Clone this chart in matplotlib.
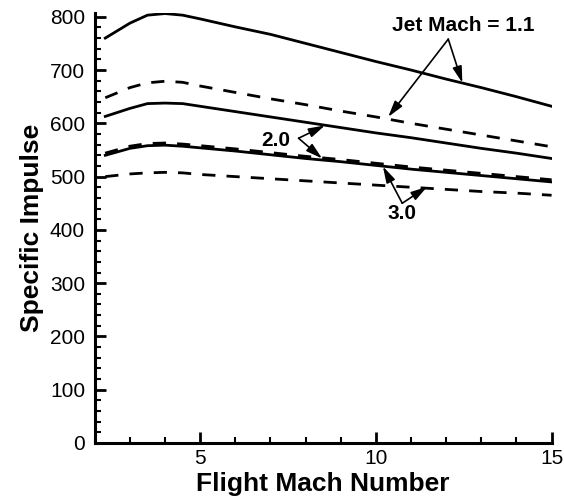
import matplotlib
matplotlib.use("Agg")
import matplotlib.pyplot as plt
from matplotlib.ticker import MultipleLocator

plt.rcParams['font.family'] = ['Liberation Sans', 'DejaVu Sans']
plt.rcParams['lines.scale_dashes'] = False

# flight Mach number grid shared by all curves
mach = [2.3, 3.0, 3.5, 4.0, 4.5, 5, 6, 7, 8, 9, 10, 11, 12, 13, 14, 15]

# specific impulse, solid and dashed families for each jet Mach number
isp_11_solid = [760, 788, 803, 806, 803, 796, 781, 767, 750, 733, 716, 700, 683, 667, 650, 632]
isp_11_dash = [648, 667, 676, 679, 677, 670, 658, 646, 635, 623, 612, 600, 589, 578, 567, 556]
isp_20_solid = [613, 628, 637, 638, 637, 632, 622, 612, 602, 592, 582, 573, 563, 553, 544, 534]
isp_20_dash = [543, 556, 561, 562, 560, 557, 551, 544, 537, 531, 524, 517, 511, 505, 499, 493]
isp_30_solid = [540, 553, 558, 559, 557, 554, 548, 541, 534, 528, 521, 514, 508, 502, 496, 490]
isp_30_dash = [500, 505, 507, 508, 507, 504, 500, 496, 492, 488, 484, 480, 476, 472, 469, 465]

fig = plt.figure(figsize=(5.64, 5.0), dpi=100)
ax = fig.add_axes([0.168, 0.114, 0.81, 0.861])

lw = 2.0
dash = (0, (9.5, 8.0))
ax.plot(mach, isp_11_solid, color='black', lw=lw)
ax.plot(mach, isp_11_dash, color='black', lw=lw, linestyle=dash)
ax.plot(mach, isp_20_solid, color='black', lw=lw)
ax.plot(mach, isp_20_dash, color='black', lw=lw + 0.8, linestyle=dash)
ax.plot(mach, isp_30_solid, color='black', lw=lw)
ax.plot(mach, isp_30_dash, color='black', lw=lw, linestyle=dash)

ax.set_xlim(2, 15)
ax.set_ylim(0, 808)
ax.xaxis.set_major_locator(MultipleLocator(5))
ax.xaxis.set_minor_locator(MultipleLocator(1))
ax.yaxis.set_major_locator(MultipleLocator(100))
ax.yaxis.set_minor_locator(MultipleLocator(20))

for side in ['top', 'right']:
    ax.spines[side].set_visible(False)
for side in ['left', 'bottom']:
    ax.spines[side].set_linewidth(2.2)

ax.tick_params(which='major', direction='in', length=8, width=2, labelsize=15)
ax.tick_params(which='minor', direction='in', length=4.5, width=1.5)
ax.tick_params(axis='x', which='major', pad=4)
ax.tick_params(axis='y', which='major', pad=7)

ax.set_xlabel('Flight Mach Number', fontsize=19, fontweight='bold', labelpad=3)
ax.set_ylabel('Specific Impulse', fontsize=19, fontweight='bold', labelpad=4)

arrow = dict(arrowstyle='-|>,head_length=0.7,head_width=0.2', color='black',
             lw=1.2, shrinkA=0, shrinkB=0, mutation_scale=14)
label_font = dict(fontsize=15, fontweight='bold', ha='center', va='center')

ax.text(12.48, 784, 'Jet Mach = 1.1', **label_font)
ax.annotate('', xy=(12.46, 676), xytext=(12.06, 758), arrowprops=arrow)
ax.annotate('', xy=(10.35, 612), xytext=(12.06, 758), arrowprops=arrow)

ax.text(7.15, 568, '2.0', **label_font)
ax.annotate('', xy=(8.55, 596), xytext=(7.8, 572), arrowprops=arrow)
ax.annotate('', xy=(8.47, 534), xytext=(7.8, 572), arrowprops=arrow)

ax.text(10.75, 430, '3.0', **label_font)
ax.annotate('', xy=(10.2, 519), xytext=(10.75, 450), arrowprops=arrow)
ax.annotate('', xy=(11.46, 481), xytext=(10.75, 450), arrowprops=arrow)

fig.savefig('out.png', dpi=100)
